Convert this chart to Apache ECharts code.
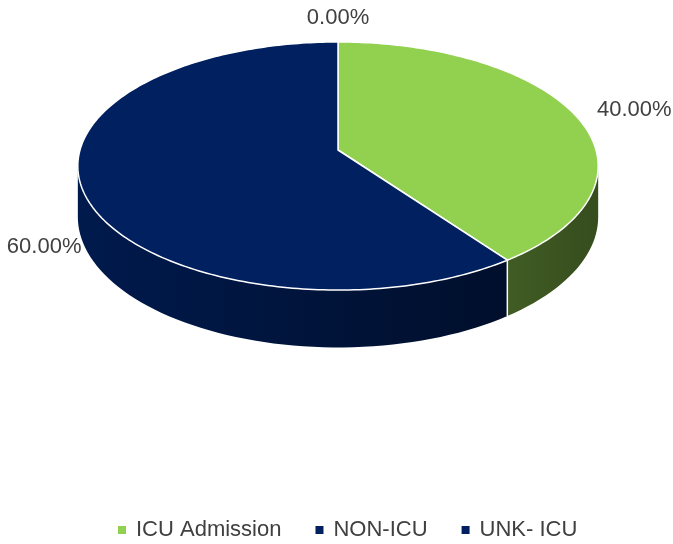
<!DOCTYPE html>
<html>
<head>
<meta charset="utf-8">
<script src="https://cdn.jsdelivr.net/npm/echarts@6/dist/echarts.min.js"></script>
<style>
  html, body { margin: 0; background: #fff; }
  #pie-3d { width: 673px; height: 544px; }
</style>
</head>
<body>
<div id="pie-3d"></div>
<script>
var categories = ['ICU Admission', 'NON-ICU', 'UNK- ICU'];
var values = [40, 60, 0];
var colors = ['#92D050', '#002060', '#002060'];
// label nudges from the slice anchor point (px)
var labelShift = [[23, -4], [-1, 6], [0, -24]];

initChart();
function initChart(){
    var dom = document.getElementById('pie-3d');
    var myChart = echarts.init(dom, null, {
        renderer: 'canvas',
        useDirtyRect: false
    });

    // disc seen at an angle, with a bit of perspective
    var cx = 338, cy = 150, rx = 258, ry = 122, k = 0.129, depth = 50;
    var total = values.reduce(function(a, b){ return a + b; }, 0);
    var starts = [];
    var acc = 0;
    for (var i = 0; i < values.length; i++) { starts.push(acc); acc += values[i]; }
    var sil0 = Math.PI / 2 + Math.asin(k);
    var sil1 = 2 * Math.PI - sil0;

    function proj(a, drop){
        var u = Math.sin(a), w = -Math.cos(a);
        var s = 1 / (1 - k * w);
        return [cx + rx * u * s, cy + (ry * w + (drop || 0)) * s];
    }
    function shade(hex, f){
        var n = parseInt(hex.slice(1), 16);
        var r = Math.round(((n >> 16) & 255) * f);
        var g = Math.round(((n >> 8) & 255) * f);
        var b = Math.round((n & 255) * f);
        return 'rgb(' + r + ',' + g + ',' + b + ')';
    }
    function sideFill(hex){
        return {
            type: 'linear', x: cx - rx, y: 0, x2: cx + rx, y2: 0, global: true,
            colorStops: [
                { offset: 0, color: shade(hex, 0.8) },
                { offset: 1, color: shade(hex, 0.37) }
            ]
        };
    }

    function renderItem(params, api){
        var i = params.dataIndex;
        var v = api.value(0);
        var a0 = starts[i] / total * 2 * Math.PI;
        var a1 = (starts[i] + v) / total * 2 * Math.PI;
        var children = [];
        var j;
        if (v > 0) {
            var s0 = Math.max(a0, sil0), s1 = Math.min(a1, sil1);
            if (s1 > s0) {
                var m = Math.ceil((s1 - s0) / Math.PI * 90) + 1;
                var side = [];
                for (j = 0; j <= m; j++) side.push(proj(s0 + (s1 - s0) * j / m, 0));
                for (j = m; j >= 0; j--) side.push(proj(s0 + (s1 - s0) * j / m, depth));
                children.push({
                    type: 'polygon', z2: 1,
                    shape: { points: side },
                    style: { fill: sideFill(colors[i]) }
                });
            }
            if (a1 > sil0 && a1 < sil1) {
                var e0 = proj(a1, 0), e1 = proj(a1, depth);
                children.push({
                    type: 'line', z2: 5,
                    shape: { x1: e0[0], y1: e0[1], x2: e1[0], y2: e1[1] },
                    style: { stroke: '#ffffff', lineWidth: 1.5 }
                });
            }
            var n = Math.ceil((a1 - a0) / Math.PI * 180) + 1;
            var top = [[cx, cy]];
            for (j = 0; j <= n; j++) top.push(proj(a0 + (a1 - a0) * j / n, 0));
            children.push({
                type: 'polygon', z2: 10,
                shape: { points: top },
                style: { fill: colors[i], stroke: '#ffffff', lineWidth: 1.5, lineJoin: 'round' }
            });
        }
        var mid = (a0 + a1) / 2;
        var u = Math.sin(mid), w = -Math.cos(mid);
        var p = proj(mid, w > 0 ? depth : 0);
        children.push({
            type: 'text', z2: 20,
            x: p[0] + labelShift[i][0],
            y: p[1] + labelShift[i][1],
            style: {
                text: (v / total * 100).toFixed(2) + '%',
                fill: '#404040',
                font: '22px "Liberation Sans", Arial, sans-serif',
                align: u > 0.3 ? 'left' : (u < -0.3 ? 'right' : 'center'),
                verticalAlign: 'middle'
            }
        });
        return { type: 'group', children: children };
    }

    var option = {
        animation: false,
        legend: {
            left: 113,
            top: 514,
            icon: 'rect',
            itemWidth: 8,
            itemHeight: 8,
            itemGap: 34,
            selectedMode: false,
            data: categories,
            textStyle: {
                fontFamily: 'Liberation Sans',
                fontSize: 22,
                color: '#404040',
                padding: [0, 0, 0, 5]
            }
        },
        series: [
            {
                type: 'custom',
                coordinateSystem: 'none',
                silent: true,
                renderItem: renderItem,
                data: values.map(function(v){ return [v]; })
            },
            {
                // invisible pie, only feeds the legend
                type: 'pie',
                radius: [0, 0],
                center: [cx, cy],
                silent: true,
                label: { show: false },
                labelLine: { show: false },
                itemStyle: { borderWidth: 0 },
                data: categories.map(function(c, i){
                    return { name: c, value: values[i], itemStyle: { color: colors[i] } };
                })
            }
        ]
    };

    if (option && typeof option === 'object') {
        myChart.setOption(option);
    }

    window.addEventListener('resize', myChart.resize);
}
</script>
</body>
</html>
